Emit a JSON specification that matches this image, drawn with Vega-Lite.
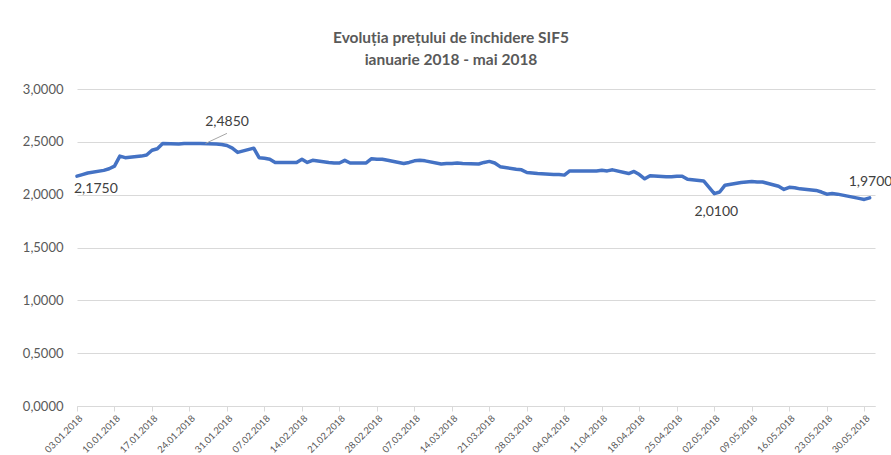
{
  "$schema": "https://vega.github.io/schema/vega-lite/v6.json",
  "width": 798,
  "height": 317,
  "autosize": {"type": "none"},
  "padding": {"left": 77, "top": 89, "right": 16, "bottom": 49},
  "background": "white",
  "title": {
    "text": ["Evoluția prețului de închidere SIF5", "ianuarie 2018 - mai 2018"],
    "anchor": "middle",
    "frame": "group",
    "dx": -25,
    "offset": 15,
    "font": "Lato",
    "fontSize": 15.5,
    "fontWeight": "bold",
    "lineHeight": 22,
    "color": "#595959"
  },
  "data": {
    "values": [
      {"d": "03.01.2018", "v": 2.175, "label": "2,1750", "pos": "first"}, {"d": "04.01.2018", "v": 2.19}, {"d": "05.01.2018", "v": 2.205},
      {"d": "08.01.2018", "v": 2.23}, {"d": "09.01.2018", "v": 2.245}, {"d": "10.01.2018", "v": 2.27},
      {"d": "11.01.2018", "v": 2.365}, {"d": "12.01.2018", "v": 2.35}, {"d": "15.01.2018", "v": 2.365},
      {"d": "16.01.2018", "v": 2.375}, {"d": "17.01.2018", "v": 2.42}, {"d": "18.01.2018", "v": 2.435},
      {"d": "19.01.2018", "v": 2.485}, {"d": "22.01.2018", "v": 2.48}, {"d": "23.01.2018", "v": 2.485},
      {"d": "25.01.2018", "v": 2.485}, {"d": "26.01.2018", "v": 2.485, "label": "2,4850", "pos": "max"}, {"d": "29.01.2018", "v": 2.48},
      {"d": "30.01.2018", "v": 2.475}, {"d": "31.01.2018", "v": 2.465}, {"d": "01.02.2018", "v": 2.44},
      {"d": "02.02.2018", "v": 2.40}, {"d": "05.02.2018", "v": 2.44}, {"d": "06.02.2018", "v": 2.35},
      {"d": "07.02.2018", "v": 2.345}, {"d": "08.02.2018", "v": 2.335}, {"d": "09.02.2018", "v": 2.305},
      {"d": "12.02.2018", "v": 2.305}, {"d": "13.02.2018", "v": 2.305}, {"d": "14.02.2018", "v": 2.335},
      {"d": "15.02.2018", "v": 2.305}, {"d": "16.02.2018", "v": 2.325}, {"d": "19.02.2018", "v": 2.305},
      {"d": "20.02.2018", "v": 2.30}, {"d": "21.02.2018", "v": 2.30}, {"d": "22.02.2018", "v": 2.325},
      {"d": "23.02.2018", "v": 2.30}, {"d": "26.02.2018", "v": 2.30}, {"d": "27.02.2018", "v": 2.34},
      {"d": "28.02.2018", "v": 2.335}, {"d": "01.03.2018", "v": 2.335}, {"d": "02.03.2018", "v": 2.325},
      {"d": "05.03.2018", "v": 2.295}, {"d": "06.03.2018", "v": 2.305}, {"d": "07.03.2018", "v": 2.32},
      {"d": "08.03.2018", "v": 2.325}, {"d": "09.03.2018", "v": 2.32}, {"d": "12.03.2018", "v": 2.29},
      {"d": "13.03.2018", "v": 2.295}, {"d": "14.03.2018", "v": 2.295}, {"d": "15.03.2018", "v": 2.30},
      {"d": "16.03.2018", "v": 2.295}, {"d": "19.03.2018", "v": 2.29}, {"d": "20.03.2018", "v": 2.305},
      {"d": "21.03.2018", "v": 2.315}, {"d": "22.03.2018", "v": 2.30}, {"d": "23.03.2018", "v": 2.265},
      {"d": "26.03.2018", "v": 2.24}, {"d": "27.03.2018", "v": 2.235}, {"d": "28.03.2018", "v": 2.21},
      {"d": "29.03.2018", "v": 2.205}, {"d": "30.03.2018", "v": 2.20}, {"d": "02.04.2018", "v": 2.19},
      {"d": "03.04.2018", "v": 2.19}, {"d": "04.04.2018", "v": 2.185}, {"d": "05.04.2018", "v": 2.225},
      {"d": "10.04.2018", "v": 2.225}, {"d": "11.04.2018", "v": 2.23}, {"d": "12.04.2018", "v": 2.225},
      {"d": "13.04.2018", "v": 2.235}, {"d": "16.04.2018", "v": 2.20}, {"d": "17.04.2018", "v": 2.22},
      {"d": "18.04.2018", "v": 2.19}, {"d": "19.04.2018", "v": 2.15}, {"d": "20.04.2018", "v": 2.18},
      {"d": "23.04.2018", "v": 2.17}, {"d": "24.04.2018", "v": 2.17}, {"d": "25.04.2018", "v": 2.175},
      {"d": "26.04.2018", "v": 2.175}, {"d": "27.04.2018", "v": 2.145}, {"d": "30.04.2018", "v": 2.13},
      {"d": "02.05.2018", "v": 2.01, "label": "2,0100", "pos": "min"}, {"d": "03.05.2018", "v": 2.025}, {"d": "04.05.2018", "v": 2.09},
      {"d": "07.05.2018", "v": 2.115}, {"d": "08.05.2018", "v": 2.12}, {"d": "09.05.2018", "v": 2.125},
      {"d": "10.05.2018", "v": 2.12}, {"d": "11.05.2018", "v": 2.12}, {"d": "14.05.2018", "v": 2.08},
      {"d": "15.05.2018", "v": 2.05}, {"d": "16.05.2018", "v": 2.07}, {"d": "17.05.2018", "v": 2.065},
      {"d": "18.05.2018", "v": 2.055}, {"d": "21.05.2018", "v": 2.04}, {"d": "22.05.2018", "v": 2.025},
      {"d": "23.05.2018", "v": 2.005}, {"d": "24.05.2018", "v": 2.01}, {"d": "25.05.2018", "v": 2.005},
      {"d": "29.05.2018", "v": 1.965}, {"d": "30.05.2018", "v": 1.955}, {"d": "31.05.2018", "v": 1.97, "label": "1,9700", "pos": "last"}
    ],
    "format": {"parse": {"d": "date:'%d.%m.%Y'"}}
  },
  "encoding": {
    "x": {
      "field": "d", "type": "temporal",
      "scale": {"domain": [{"year": 2018, "month": 1, "date": 3}, {"year": 2018, "month": 6, "date": 1}], "nice": false},
      "axis": {
        "title": null,
        "format": "%d.%m.%Y",
        "values": [
          {"year": 2018, "month": 1, "date": 3}, {"year": 2018, "month": 1, "date": 10},
          {"year": 2018, "month": 1, "date": 17}, {"year": 2018, "month": 1, "date": 24},
          {"year": 2018, "month": 1, "date": 31}, {"year": 2018, "month": 2, "date": 7},
          {"year": 2018, "month": 2, "date": 14}, {"year": 2018, "month": 2, "date": 21},
          {"year": 2018, "month": 2, "date": 28}, {"year": 2018, "month": 3, "date": 7},
          {"year": 2018, "month": 3, "date": 14}, {"year": 2018, "month": 3, "date": 21},
          {"year": 2018, "month": 3, "date": 28}, {"year": 2018, "month": 4, "date": 4},
          {"year": 2018, "month": 4, "date": 11}, {"year": 2018, "month": 4, "date": 18},
          {"year": 2018, "month": 4, "date": 25}, {"year": 2018, "month": 5, "date": 2},
          {"year": 2018, "month": 5, "date": 9}, {"year": 2018, "month": 5, "date": 16},
          {"year": 2018, "month": 5, "date": 23}, {"year": 2018, "month": 5, "date": 30}
        ],
        "labelAngle": -45,
        "labelFont": "Lato",
        "labelFontSize": 9.5,
        "labelColor": "#595959",
        "labelPadding": 2,
        "labelOverlap": false,
        "labelBound": false,
        "grid": false,
        "domainColor": "#D9D9D9",
        "tickColor": "#D9D9D9",
        "tickSize": 5
      }
    },
    "y": {
      "field": "v", "type": "quantitative",
      "scale": {"domain": [0, 3], "nice": false, "zero": true},
      "axis": {
        "title": null,
        "values": [0, 0.5, 1, 1.5, 2, 2.5, 3],
        "labelExpr": "replace(format(datum.value, '.4f'), '.', ',')",
        "labelFont": "Lato",
        "labelFontSize": 13,
        "labelColor": "#595959",
        "labelPadding": 14,
        "domain": false,
        "ticks": false,
        "grid": true,
        "gridColor": "#D9D9D9",
        "gridWidth": 1
      }
    }
  },
  "layer": [
    {
      "mark": {"type": "line", "color": "#4472C4", "strokeWidth": 3.5, "strokeJoin": "round", "strokeCap": "round"}
    },
    {
      "data": {"values": [{"d": "27.01.2018", "v": 2.485, "d2": "31.01.2018", "v2": 2.58}], "format": {"parse": {"d": "date:'%d.%m.%Y'", "d2": "date:'%d.%m.%Y'"}}},
      "mark": {"type": "rule", "color": "#A6A6A6", "strokeWidth": 1},
      "encoding": {
        "x2": {"field": "d2"},
        "y2": {"field": "v2"}
      }
    },
    {
      "transform": [{"filter": "datum.pos === 'first'"}],
      "mark": {"type": "text", "align": "left", "baseline": "middle", "dx": -3, "dy": 13, "font": "Lato", "fontSize": 14, "color": "#404040"},
      "encoding": {"text": {"field": "label", "type": "nominal"}}
    },
    {
      "transform": [{"filter": "datum.pos === 'max'"}],
      "mark": {"type": "text", "align": "left", "baseline": "middle", "dx": 5, "dy": -21, "font": "Lato", "fontSize": 14, "color": "#404040"},
      "encoding": {"text": {"field": "label", "type": "nominal"}}
    },
    {
      "transform": [{"filter": "datum.pos === 'min'"}],
      "mark": {"type": "text", "align": "center", "baseline": "middle", "dx": 2, "dy": 18, "font": "Lato", "fontSize": 14, "color": "#404040"},
      "encoding": {"text": {"field": "label", "type": "nominal"}}
    },
    {
      "transform": [{"filter": "datum.pos === 'last'"}],
      "mark": {"type": "text", "align": "left", "baseline": "middle", "dx": -21, "dy": -16, "font": "Lato", "fontSize": 14, "color": "#404040"},
      "encoding": {"text": {"field": "label", "type": "nominal"}}
    }
  ],
  "config": {"view": {"stroke": null}}
}
